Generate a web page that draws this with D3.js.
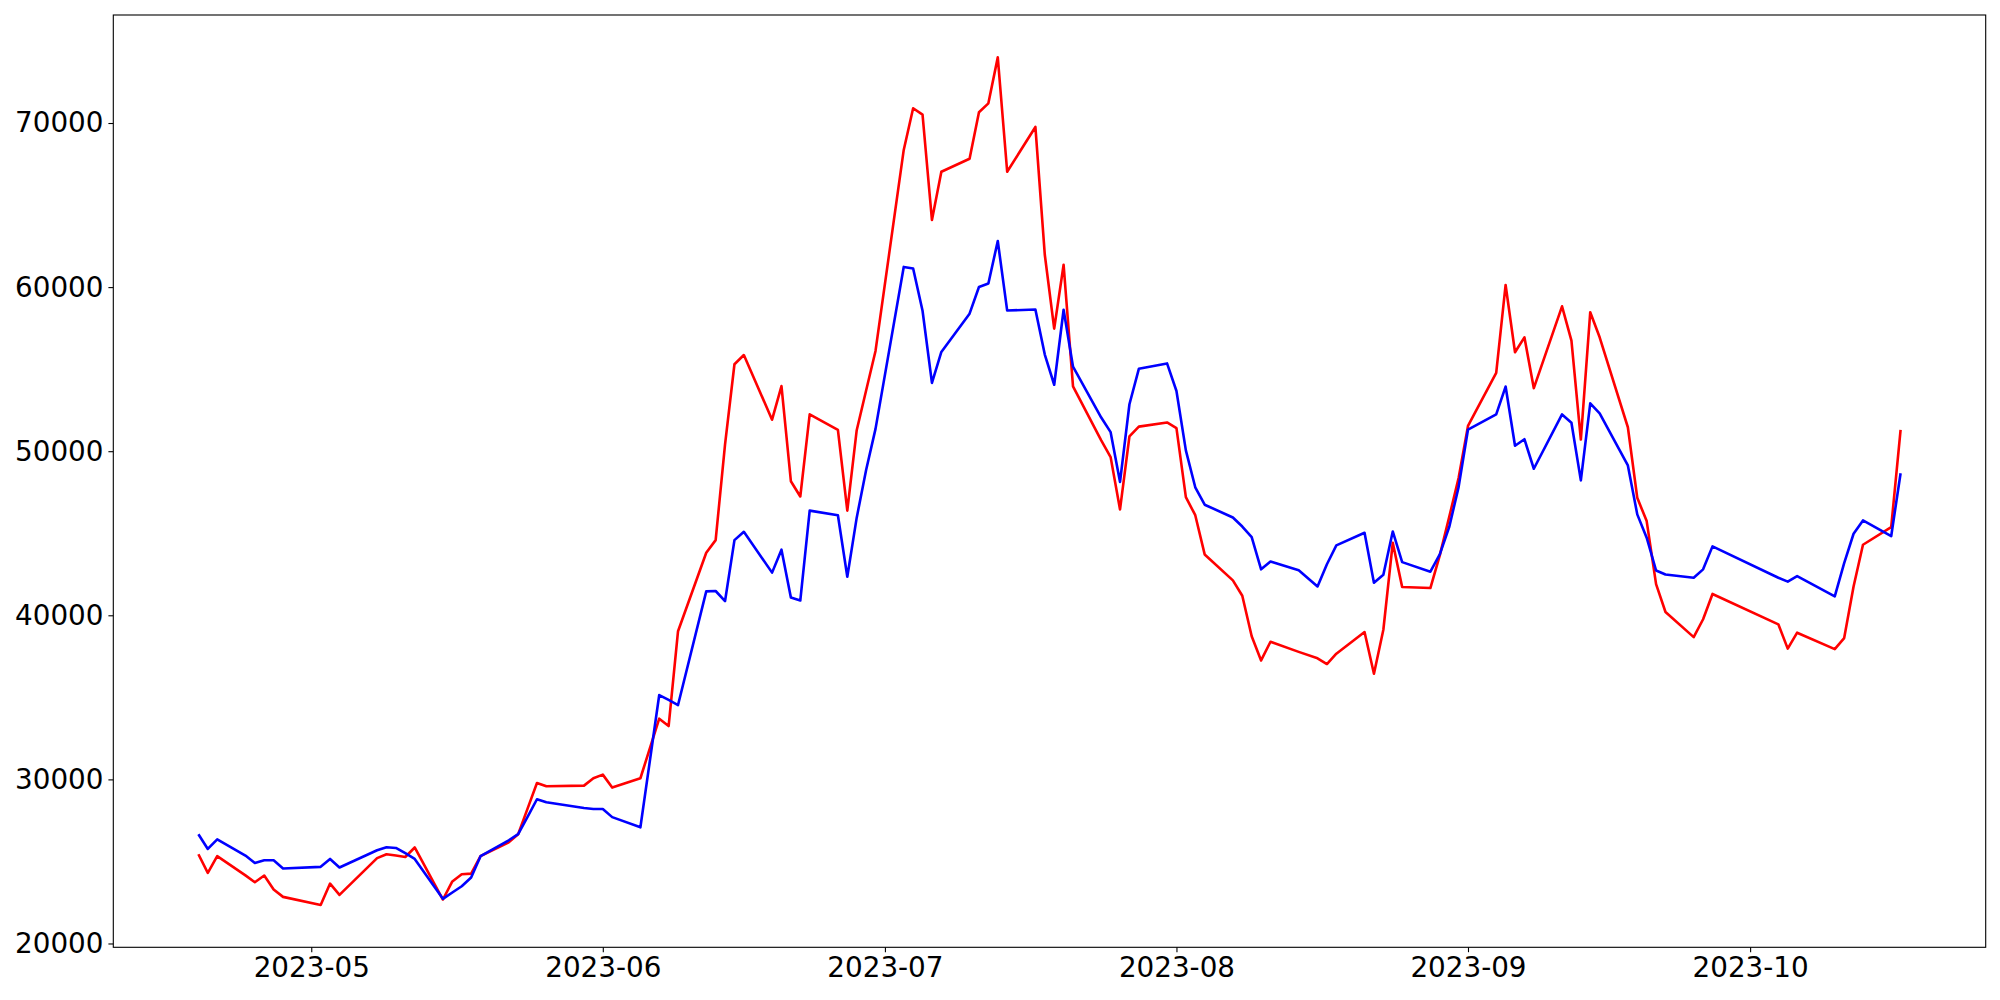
<!DOCTYPE html>
<html>
<head>
<meta charset="utf-8">
<script src="https://cdn.jsdelivr.net/npm/d3@7"></script>
<style>
  body { margin: 0; background: #fff; }
  svg { display: block; }
  .tick text { font-family: "DejaVu Sans", sans-serif; font-size: 27.8px; fill: #000; }
  .tick line { stroke: #000; stroke-width: 1.1; }
</style>
</head>
<body>
<svg id="chart" width="2000" height="1000"></svg>
<script>
"use strict";

// Trading days (KRX calendar, holidays skipped)
const dates = [
    "2023-04-19", "2023-04-20", "2023-04-21", "2023-04-24", "2023-04-25", "2023-04-26", "2023-04-27", "2023-04-28",
    "2023-05-02", "2023-05-03", "2023-05-04", "2023-05-08", "2023-05-09", "2023-05-10", "2023-05-11", "2023-05-12",
    "2023-05-15", "2023-05-16", "2023-05-17", "2023-05-18", "2023-05-19", "2023-05-22", "2023-05-23", "2023-05-24",
    "2023-05-25", "2023-05-26", "2023-05-30", "2023-05-31",
    "2023-06-01", "2023-06-02", "2023-06-05", "2023-06-07", "2023-06-08", "2023-06-09", "2023-06-12", "2023-06-13",
    "2023-06-14", "2023-06-15", "2023-06-16", "2023-06-19", "2023-06-20", "2023-06-21", "2023-06-22", "2023-06-23",
    "2023-06-26", "2023-06-27", "2023-06-28", "2023-06-29", "2023-06-30",
    "2023-07-03", "2023-07-04", "2023-07-05", "2023-07-06", "2023-07-07", "2023-07-10", "2023-07-11", "2023-07-12",
    "2023-07-13", "2023-07-14", "2023-07-17", "2023-07-18", "2023-07-19", "2023-07-20", "2023-07-21", "2023-07-24",
    "2023-07-25", "2023-07-26", "2023-07-27", "2023-07-28", "2023-07-31",
    "2023-08-01", "2023-08-02", "2023-08-03", "2023-08-04", "2023-08-07", "2023-08-08", "2023-08-09", "2023-08-10",
    "2023-08-11", "2023-08-14", "2023-08-16", "2023-08-17", "2023-08-18", "2023-08-21", "2023-08-22", "2023-08-23",
    "2023-08-24", "2023-08-25", "2023-08-28", "2023-08-29", "2023-08-30", "2023-08-31",
    "2023-09-01", "2023-09-04", "2023-09-05", "2023-09-06", "2023-09-07", "2023-09-08", "2023-09-11", "2023-09-12",
    "2023-09-13", "2023-09-14", "2023-09-15", "2023-09-18", "2023-09-19", "2023-09-20", "2023-09-21", "2023-09-22",
    "2023-09-25", "2023-09-26", "2023-09-27",
    "2023-10-04", "2023-10-05", "2023-10-06", "2023-10-10", "2023-10-11", "2023-10-12", "2023-10-13", "2023-10-16",
    "2023-10-17"
];

// Red series
const redValues = [
    25440, 24300, 25320, 24150, 23730, 24140, 23290, 22840,
    22350, 23650, 22960, 25200, 25440, 25360, 25270, 25850,
    22680, 23780, 24220, 24260, 25320, 26170, 26660, 28220,
    29780, 29580, 29620, 30070,
    30290, 29500, 30070, 33700, 33250, 39030, 43810, 44580,
    50410, 55300, 55860, 51920, 53970, 48170, 47240, 52250,
    51300, 46380, 51280, 53700, 56110,
    68360, 70900, 70510, 64090, 67030, 67820, 70660, 71200,
    74000, 67030, 69760, 61970, 57470, 61360, 53950, 50660,
    49640, 46450, 50900, 51500, 51750,
    51410, 47200, 46100, 43710, 42130, 41190, 38720, 37250,
    38390, 37770, 37380, 37030, 37660, 38980, 36440, 39120,
    44420, 41720, 41660, 43650, 45980, 48370,
    51540, 54780, 60130, 56030, 56940, 53840, 58830, 56740,
    50710, 58470, 56940, 51460, 47160, 45740, 41900, 40200,
    38670, 39760, 41300,
    39450, 37970, 38940, 37940, 38610, 41760, 44300, 45370,
    51300
];

// Blue series
const blueValues = [
    26660, 25760, 26350, 25360, 24910, 25070, 25070, 24570,
    24670, 25150, 24630, 25680, 25860, 25820, 25500, 25150,
    22720, 23110, 23490, 24020, 25320, 26290, 26660, 27710,
    28790, 28610, 28260, 28200,
    28200, 27700, 27080, 35140, 34840, 34530, 41460, 41480,
    40870, 44580, 45090, 42600, 44000, 41080, 40900, 46380,
    46100, 42350, 45950, 48850, 51360,
    61230, 61130, 58560, 54160, 56050, 58380, 60010, 60220,
    62810, 58570, 58640, 55890, 54050, 58620, 55150, 52050,
    51160, 48130, 52860, 55020, 55350,
    53670, 50050, 47800, 46740, 45960, 45410, 44760, 42800,
    43280, 42750, 41760, 43110, 44260, 45030, 41990, 42470,
    45110, 43240, 42660, 43710, 45370, 47810,
    51320, 52240, 53940, 50330, 50730, 48930, 52240, 51730,
    48220, 52920, 52310, 49130, 46150, 44730, 42730, 42490,
    42290, 42800, 44200,
    42290, 42050, 42390, 41150, 43180, 44970, 45780, 44820,
    48660
];

const yTickValues = [20000, 30000, 40000, 50000, 60000, 70000];

const frame = { left: 113.3, right: 1985.7, top: 15, bottom: 947.3 };

/**
 * Pad an extent by a fraction of its span on both sides.
 */
function padExtent(lo, hi, frac) {
    const pad = (hi - lo) * frac;
    return [lo - pad, hi + pad];
}

const parse = d3.timeParse("%Y-%m-%d");
const days = dates.map(parse);

const red = days.map((d, i) => ({ date: d, value: redValues[i] }));
const blue = days.map((d, i) => ({ date: d, value: blueValues[i] }));

const t0 = d3.min(days), t1 = d3.max(days);
const xPad = padExtent(+t0, +t1, 0.05);
const x = d3.scaleTime()
    .domain([new Date(xPad[0]), new Date(xPad[1])])
    .range([frame.left, frame.right]);

const allValues = redValues.concat(blueValues);
const y = d3.scaleLinear()
    .domain(padExtent(d3.min(allValues), d3.max(allValues), 0.05))
    .range([frame.bottom, frame.top]);

const svg = d3.select("#chart");

// Series lines: red first, blue drawn on top
const line = d3.line()
    .x(d => x(d.date))
    .y(d => y(d.value));

const plot = svg.append("g").attr("class", "plot");
[[red, "#ff0000"], [blue, "#0000ff"]].forEach(([series, color]) => {
    plot.append("path")
        .datum(series)
        .attr("fill", "none")
        .attr("stroke", color)
        .attr("stroke-width", 2.6)
        .attr("stroke-linejoin", "round")
        .attr("d", line);
});

// Axes
const xAxis = d3.axisBottom(x)
    .tickValues(d3.timeMonth.range(x.domain()[0], x.domain()[1]))
    .tickFormat(d3.timeFormat("%Y-%m"))
    .tickSizeInner(4.9)
    .tickSizeOuter(0)
    .tickPadding(4.9);

const yAxis = d3.axisLeft(y)
    .tickValues(yTickValues)
    .tickFormat(d3.format("d"))
    .tickSizeInner(4.9)
    .tickSizeOuter(0)
    .tickPadding(4.9);

svg.append("g")
    .attr("transform", `translate(0,${frame.bottom})`)
    .call(xAxis)
    .call(g => g.select(".domain").remove());

svg.append("g")
    .attr("transform", `translate(${frame.left},0)`)
    .call(yAxis)
    .call(g => g.select(".domain").remove());

// Spines
svg.append("rect")
    .attr("x", frame.left)
    .attr("y", frame.top)
    .attr("width", frame.right - frame.left)
    .attr("height", frame.bottom - frame.top)
    .attr("fill", "none")
    .attr("stroke", "#000")
    .attr("stroke-width", 1.1);
</script>
</body>
</html>
